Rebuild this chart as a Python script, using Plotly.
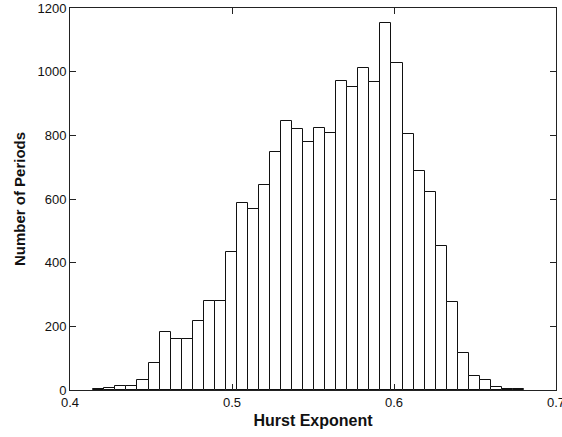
import plotly.graph_objects as go

# Histogram data
bin_start = 0.41438
bin_width = 0.006817
counts = [3, 7, 14, 14, 31, 84, 181, 160, 160, 217, 281, 281, 433, 587, 568,
          644, 747, 845, 819, 778, 823, 806, 971, 951, 1012, 968, 1153, 1028,
          803, 688, 621, 452, 277, 117, 44, 33, 8, 2, 2]
centers = [bin_start + (i + 0.5) * bin_width for i in range(len(counts))]

x_ticks = [0.4, 0.5, 0.6, 0.7]
y_ticks = [0, 200, 400, 600, 800, 1000, 1200]

fig = go.Figure(go.Bar(
    x=centers, y=counts, width=bin_width,
    marker=dict(color="white", line=dict(color="#111111", width=1)),
))

font_family = "Liberation Sans, Arial, sans-serif"
axis_common = dict(
    showgrid=False, zeroline=False, showline=True, linecolor="#222222",
    linewidth=1, mirror="ticks", ticks="inside", ticklen=6,
    tickcolor="#222222", ticklabeloverflow="allow", automargin=False,
    tickfont=dict(family=font_family, size=13, color="#111111"),
)

fig.update_layout(
    width=562, height=437,
    margin=dict(l=70, r=6, t=8, b=47),
    paper_bgcolor="white", plot_bgcolor="white",
    showlegend=False, bargap=0,
    xaxis=dict(range=[0.4, 0.7], tickvals=x_ticks,
               ticktext=[str(v) for v in x_ticks],
               title=dict(text="<b>Hurst Exponent</b>", standoff=6,
                          font=dict(family=font_family, size=16, color="#111111")),
               **axis_common),
    yaxis=dict(range=[0, 1200], tickvals=y_ticks,
               title=dict(text="<b>Number of Periods</b>", standoff=8,
                          font=dict(family=font_family, size=15, color="#111111")),
               **axis_common),
)

fig.write_html("out.html")
